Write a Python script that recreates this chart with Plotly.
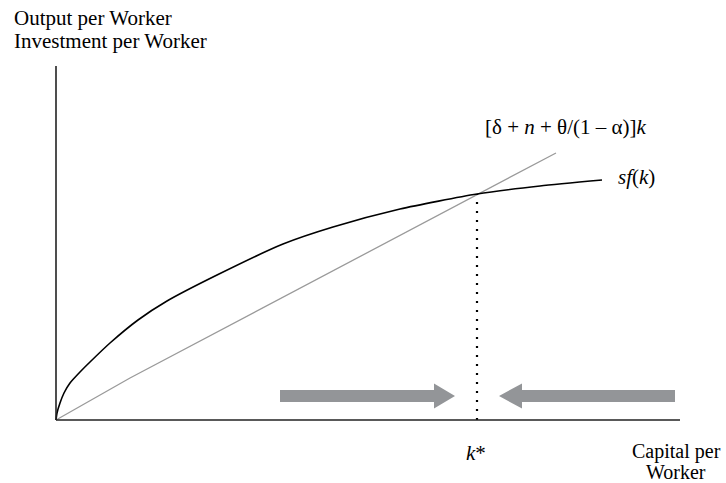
import plotly.graph_objects as go

# capital per worker k and saving curve sf(k)
k_vals = [0, 1, 4, 8, 14, 24, 34, 54, 82, 111, 161, 227, 277, 344, 421, 484, 546]
sf_vals = [0, 7, 17, 27, 37, 48, 58, 77, 100, 119, 145, 176, 193, 211, 226, 234, 240]

# break-even investment line [delta + n + theta/(1-alpha)]k
line_k = [0, 74, 500]
line_y = [0, 42, 267]

k_star = 421
sf_star = 226

x_axis_end = 624
y_axis_end = 354

font = "Liberation Serif, Times New Roman, serif"
arrow_col = "#939598"

fig = go.Figure()
fig.add_trace(go.Scatter(x=line_k, y=line_y, mode="lines",
                         line=dict(color="#9a9a9a", width=1.3), hoverinfo="skip"))
fig.add_trace(go.Scatter(x=k_vals, y=sf_vals, mode="lines", line_shape="spline",
                         line=dict(color="black", width=1.6, smoothing=0.6), hoverinfo="skip"))
fig.add_trace(go.Scatter(x=[k_star, k_star], y=[0, sf_star], mode="lines",
                         line=dict(color="black", width=2.2, dash="2px,7px"), hoverinfo="skip"))

# axes
fig.add_shape(type="line", x0=0, y0=0, x1=x_axis_end, y1=0, line=dict(color="#222", width=1.6))
fig.add_shape(type="line", x0=0, y0=0, x1=0, y1=y_axis_end, line=dict(color="#222", width=1.6))

# arrows pointing at k*
def arrow_path(x_tail, x_base, x_tip, yc, half_bar, half_head):
    return (f"M{x_tail},{yc-half_bar} L{x_base},{yc-half_bar} L{x_base},{yc-half_head} "
            f"L{x_tip},{yc} L{x_base},{yc+half_head} L{x_base},{yc+half_bar} "
            f"L{x_tail},{yc+half_bar} Z")

fig.add_shape(type="path", path=arrow_path(224, 378, 399, 24, 6, 12.5),
              fillcolor=arrow_col, line=dict(width=0))
fig.add_shape(type="path", path=arrow_path(619, 466, 443, 24, 6, 12.5),
              fillcolor=arrow_col, line=dict(width=0))

labels = [
    dict(x=-43, y=402, text="Output per Worker", xanchor="left", size=21),
    dict(x=-43, y=379, text="Investment per Worker", xanchor="left", size=21),
    dict(x=509, y=293, text="[δ + <i>n</i> + θ/(1 – α)]<i>k</i>", xanchor="center", size=21),
    dict(x=561, y=243, text="<i>sf</i>(<i>k</i>)", xanchor="left", size=21),
    dict(x=420, y=-33, text="<i>k</i>*", xanchor="center", size=21),
    dict(x=620, y=-31, text="Capital per", xanchor="center", size=20),
    dict(x=620, y=-52, text="Worker", xanchor="center", size=20),
]
for lb in labels:
    fig.add_annotation(x=lb["x"], y=lb["y"], text=lb["text"], xanchor=lb["xanchor"],
                       yanchor="middle", showarrow=False, borderpad=0,
                       font=dict(family=font, size=lb["size"], color="black"))

# axis units are pixels measured from the origin of the diagram
fig.update_layout(
    width=726, height=483,
    margin=dict(l=0, r=0, t=0, b=0),
    plot_bgcolor="white", paper_bgcolor="white",
    showlegend=False,
    xaxis=dict(range=[-56, 670], visible=False, fixedrange=True),
    yaxis=dict(range=[-63, 420], visible=False, fixedrange=True),
)

# drop the default 8px page margin so the figure fills the window
fig.write_html("out.html", config={"displayModeBar": False},
               post_script="document.body.style.margin='0';")
